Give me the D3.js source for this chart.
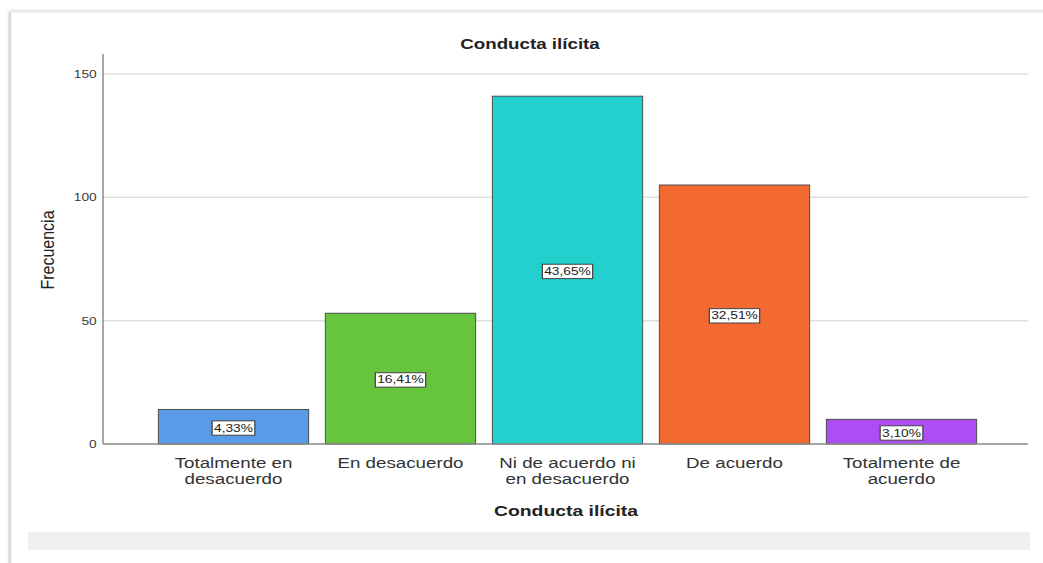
<!DOCTYPE html>
<html>
<head>
<meta charset="utf-8">
<script src="https://cdn.jsdelivr.net/npm/d3@7"></script>
<style>
  body { margin: 0; background: #fff; }
  svg { display: block; font-family: "Liberation Sans", Arial, sans-serif; }
</style>
</head>
<body>
<div id="chart-area"></div>
<script>

// data
var categories = [["Totalmente en", "desacuerdo"], ["En desacuerdo"], ["Ni de acuerdo ni", "en desacuerdo"], ["De acuerdo"], ["Totalmente de", "acuerdo"]];
var counts = [14, 53, 141, 105, 10];
var percents = ["4,33%", "16,41%", "43,65%", "32,51%", "3,10%"];
var barColors = ["#5a9be8", "#66c43d", "#23d0ce", "#f36a30", "#ad4df4"];
var yTicks = [0, 50, 100, 150];

var W = 1043, H = 563;
var stretch = 1.25; // the source picture is a bit wider than tall

var svg = d3.select("#chart-area").append("svg")
    .attr("width", W)
    .attr("height", H);

// card frame with a soft shadow on the left
var defs = svg.append("defs");
var f = defs.append("filter").attr("id", "shadow").attr("x", "-5%").attr("y", "-5%").attr("width", "110%").attr("height", "110%");
f.append("feGaussianBlur").attr("in", "SourceAlpha").attr("stdDeviation", 1.5);
f.append("feOffset").attr("dx", -1).attr("dy", 0).attr("result", "b");
f.append("feComponentTransfer").append("feFuncA").attr("type", "linear").attr("slope", 0.35);
var m = f.append("feMerge");
m.append("feMergeNode");
m.append("feMergeNode").attr("in", "SourceGraphic");

svg.append("rect")
    .attr("x", 11).attr("y", 12)
    .attr("width", W + 20).attr("height", H + 20)
    .attr("fill", "#fff")
    .attr("stroke", "#e6e6e6")
    .attr("filter", "url(#shadow)");

// grey band at the bottom
svg.append("rect")
    .attr("x", 28).attr("y", 532)
    .attr("width", 1002).attr("height", 18)
    .attr("fill", "#efefef");

var plotLeft = 103, plotRight = 1028;

var y = d3.scaleLinear()
    .domain([0, 150])
    .range([444, 74]);

var x = d3.scaleBand()
    .domain(d3.range(counts.length))
    .range([150, 985])
    .paddingInner(0.1)
    .paddingOuter(0.05);

function place(px, py) {
    return "translate(" + px + "," + py + ") scale(" + stretch + ",1)";
}

// gridlines
svg.selectAll(".grid")
    .data(yTicks.filter(function(d) { return d > 0; }))
    .enter()
    .append("line")
    .attr("class", "grid")
    .attr("x1", plotLeft).attr("x2", plotRight)
    .attr("y1", function(d) { return y(d); })
    .attr("y2", function(d) { return y(d); })
    .attr("stroke", "#dedede")
    .attr("stroke-width", 1.5);

// y axis
var yAxis = d3.axisLeft(y)
    .tickValues(yTicks)
    .tickSize(0)
    .tickPadding(5);

var gy = svg.append("g")
    .attr("transform", "translate(" + plotLeft + ",0)")
    .call(yAxis);
gy.select(".domain").remove();
gy.selectAll("text")
    .attr("transform", "scale(" + stretch + ",1)")
    .attr("font-size", 11)
    .attr("fill", "#3a3a3a")
    .attr("font-family", "Liberation Sans, Arial, sans-serif");

svg.append("line")
    .attr("x1", plotLeft).attr("x2", plotLeft)
    .attr("y1", 54).attr("y2", 444)
    .attr("stroke", "#8a8a8a")
    .attr("stroke-width", 1.5);

// bars
svg.selectAll(".bar")
    .data(counts)
    .enter()
    .append("rect")
    .attr("class", "bar")
    .attr("x", function(d, i) { return x(i); })
    .attr("y", function(d) { return y(d); })
    .attr("width", x.bandwidth())
    .attr("height", function(d) { return y(0) - y(d); })
    .attr("fill", function(d, i) { return barColors[i]; })
    .attr("stroke", "#4d4d4d")
    .attr("stroke-width", 1);

// x axis line
svg.append("line")
    .attr("x1", plotLeft).attr("x2", plotRight)
    .attr("y1", y(0)).attr("y2", y(0))
    .attr("stroke", "#8a8a8a")
    .attr("stroke-width", 1.5);

// percentage labels in boxes
var lab = svg.selectAll(".pct")
    .data(counts)
    .enter()
    .append("g")
    .attr("class", "pct")
    .attr("transform", function(d, i) {
        return place(x(i) + x.bandwidth() / 2, (y(d) + y(0)) / 2 + 1);
    });

lab.append("text")
    .attr("text-anchor", "middle")
    .attr("dy", "0.35em")
    .attr("font-size", 11)
    .attr("fill", "#222")
    .text(function(d, i) { return percents[i]; });

lab.each(function() {
    var g = d3.select(this);
    var bb = g.select("text").node().getBBox();
    g.insert("rect", "text")
        .attr("x", bb.x - 1.5)
        .attr("y", bb.y - 1)
        .attr("width", bb.width + 3)
        .attr("height", bb.height + 2)
        .attr("fill", "#fff")
        .attr("stroke", "#444")
        .attr("stroke-width", 1);
});

// category labels
var cat = svg.selectAll(".cat")
    .data(categories)
    .enter()
    .append("text")
    .attr("class", "cat")
    .attr("text-anchor", "middle")
    .attr("transform", function(d, i) { return place(x(i) + x.bandwidth() / 2, 468); })
    .attr("font-size", 15)
    .attr("fill", "#333");

cat.selectAll("tspan")
    .data(function(d) { return d; })
    .enter()
    .append("tspan")
    .attr("x", 0)
    .attr("dy", function(d, j) { return j === 0 ? 0 : 16.5; })
    .text(function(d) { return d; });

// titles
svg.append("text")
    .attr("transform", place(530, 49))
    .attr("text-anchor", "middle")
    .attr("font-size", 15)
    .attr("font-weight", "bold")
    .attr("fill", "#222")
    .text("Conducta ilícita");

svg.append("text")
    .attr("transform", place(566, 516))
    .attr("text-anchor", "middle")
    .attr("font-size", 15.5)
    .attr("font-weight", "bold")
    .attr("fill", "#222")
    .text("Conducta ilícita");

svg.append("text")
    .attr("transform", "translate(54,250) rotate(-90) scale(1,1.15)")
    .attr("text-anchor", "middle")
    .attr("font-size", 16)
    .attr("fill", "#222")
    .text("Frecuencia");

</script>
</body>
</html>
